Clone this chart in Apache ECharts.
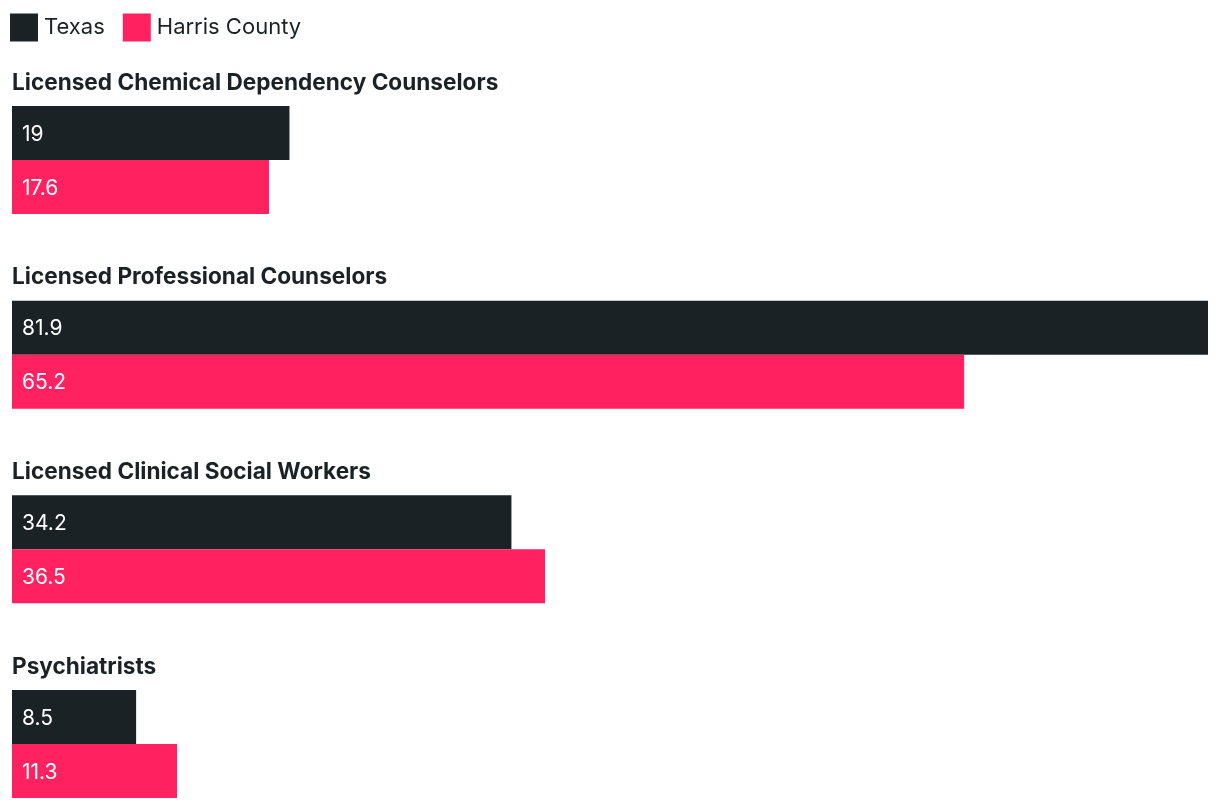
<!DOCTYPE html>
<html>
<head>
<meta charset="utf-8">
<script src="https://cdn.jsdelivr.net/npm/echarts@6/dist/echarts.min.js"></script>
<style>html,body{margin:0;padding:0;background:#fff}#c{width:1220px;height:808px}</style>
</head>
<body>
<div id="c"></div>
<script>
const categories = ["Licensed Chemical Dependency Counselors", "Licensed Professional Counselors", "Licensed Clinical Social Workers", "Psychiatrists"];
const seriesNames = ["Texas", "Harris County"];
const texasValues = [19, 81.9, 34.2, 8.5];
const harrisValues = [17.6, 65.2, 36.5, 11.3];
const colors = ["#1b2226", "#ff2160"];

const chart = echarts.init(document.getElementById('c'));
const labelCfg = {
  show: true, position: 'insideLeft', distance: 10, offset: [0, 1.5],
  color: '#ffffff', fontFamily: 'Inter', fontSize: 21, fontWeight: 400
};
chart.setOption({
  animation: false,
  color: colors,
  textStyle: { fontFamily: 'Inter' },
  legend: {
    left: 5, top: 8.5, itemWidth: 28, itemHeight: 28, itemGap: 18, icon: 'rect',
    textStyle: { fontFamily: 'Inter', fontSize: 22, color: '#1b2226', padding: [0, 0, 0, 1] },
    data: seriesNames
  },
  grid: { left: 12, right: 12, top: 62.67, height: 778.67, containLabel: false, outerBoundsMode: 'none' },
  xAxis: { type: 'value', min: 0, max: 81.9, show: false },
  yAxis: {
    type: 'category', inverse: true, data: categories,
    axisLine: { show: false }, axisTick: { show: false }, splitLine: { show: false },
    axisLabel: {
      inside: true, margin: 0, align: 'left', verticalAlign: 'bottom',
      fontFamily: 'Inter', fontSize: 22.6, fontWeight: 700, color: '#1b2226',
      lineHeight: 26, padding: [0, 0, 64, 0]
    }
  },
  series: [
    { name: seriesNames[0], type: 'bar', data: texasValues, barWidth: 54, barGap: '0%', label: labelCfg },
    { name: seriesNames[1], type: 'bar', data: harrisValues, barWidth: 54, barGap: '0%', label: labelCfg }
  ]
});
</script>
</body>
</html>
